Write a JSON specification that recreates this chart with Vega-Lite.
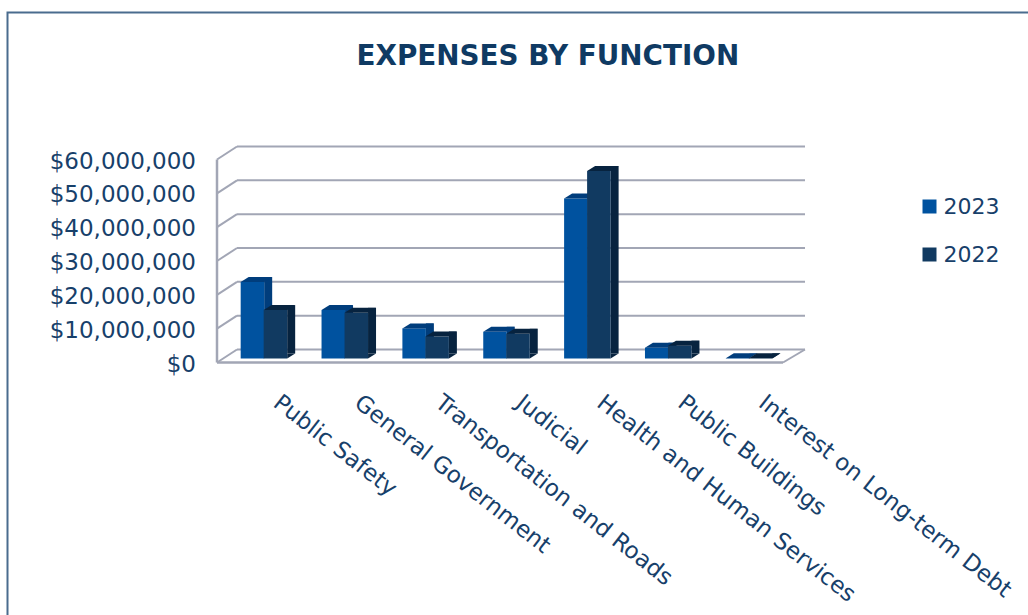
{
  "$schema": "https://vega.github.io/schema/vega-lite/v6.json",
  "width": 1030,
  "height": 610,
  "autosize": "none",
  "padding": {"left": 7.5, "top": 12.5, "right": 0, "bottom": 0},
  "background": "white",
  "view": {"stroke": "#4a6c8e", "strokeWidth": 2, "fill": "white"},
  "title": {
    "text": "EXPENSES BY FUNCTION",
    "orient": "top", "anchor": "start", "frame": "group",
    "dx": 349, "dy": 62,
    "font": "DejaVu Sans", "fontSize": 27.8, "fontWeight": "bold", "color": "#0f3a63"
  },
  "config": {
    "font": "DejaVu Sans",
    "axis": {"grid": false, "ticks": false, "domain": false, "title": null}
  },
  "datasets": {
    "expenses": [
      {"fn": "Public Safety", "year": "2023", "amount": 22600000},
      {"fn": "Public Safety", "year": "2022", "amount": 14300000},
      {"fn": "General Government", "year": "2023", "amount": 14300000},
      {"fn": "General Government", "year": "2022", "amount": 13500000},
      {"fn": "Transportation and Roads", "year": "2023", "amount": 8900000},
      {"fn": "Transportation and Roads", "year": "2022", "amount": 6500000},
      {"fn": "Judicial", "year": "2023", "amount": 7900000},
      {"fn": "Judicial", "year": "2022", "amount": 7300000},
      {"fn": "Health and Human Services", "year": "2023", "amount": 47300000},
      {"fn": "Health and Human Services", "year": "2022", "amount": 55400000},
      {"fn": "Public Buildings", "year": "2023", "amount": 3200000},
      {"fn": "Public Buildings", "year": "2022", "amount": 3800000},
      {"fn": "Interest on Long-term Debt", "year": "2023", "amount": 100000},
      {"fn": "Interest on Long-term Debt", "year": "2022", "amount": 100000}
    ],
    "ticks": [
      {"tick": 0}, {"tick": 10000000}, {"tick": 20000000}, {"tick": 30000000},
      {"tick": 40000000}, {"tick": 50000000}, {"tick": 60000000}
    ]
  },
  "resolve": {"scale": {"x": "independent"}},
  "layer": [
    {
      "data": {"name": "ticks"},
      "mark": {"type": "rule", "stroke": "#a2a6b5", "strokeWidth": 2, "xOffset": 20, "x2Offset": 22, "yOffset": -13},
      "encoding": {
        "x": {"datum": 0, "type": "quantitative", "scale": {"domain": [0, 1], "range": [209.5, 775.5]}, "axis": null},
        "x2": {"datum": 1},
        "y": {"field": "tick", "type": "quantitative", "scale": {"domain": [0, 60000000], "range": [350, 147]},
          "axis": {"values": [0, 10000000, 20000000, 30000000, 40000000, 50000000, 60000000], "format": "$,.0f", "offset": -188, "labelPadding": 0, "labelFontSize": 23, "labelColor": "#17406a", "labelOffset": 1.5}}
      }
    },
    {
      "data": {"name": "ticks"},
      "mark": {"type": "point", "shape": "M0 0L20 -13", "size": 4, "filled": false, "stroke": "#a2a6b5", "strokeWidth": 2, "opacity": 1},
      "encoding": {
        "x": {"datum": 0, "type": "quantitative", "scale": {"domain": [0, 1], "range": [209.5, 775.5]}, "axis": null},
        "y": {"field": "tick", "type": "quantitative"}
      }
    },
    {
      "data": {"values": [{"tick": 0}]},
      "mark": {"type": "rule", "stroke": "#a2a6b5", "strokeWidth": 2.5},
      "encoding": {
        "x": {"datum": 0, "type": "quantitative", "scale": {"domain": [0, 1], "range": [209.5, 775.5]}, "axis": null},
        "x2": {"datum": 1},
        "y": {"field": "tick", "type": "quantitative"}
      }
    },
    {
      "data": {"values": [{"tick": 0, "top": 60000000}]},
      "mark": {"type": "rule", "stroke": "#a2a6b5", "strokeWidth": 2.5},
      "encoding": {
        "x": {"datum": 0, "type": "quantitative", "scale": {"domain": [0, 1], "range": [209.5, 775.5]}, "axis": null},
        "y": {"field": "tick", "type": "quantitative"},
        "y2": {"field": "top"}
      }
    },
    {
      "data": {"values": [{"tick": 0}]},
      "mark": {"type": "point", "shape": "M0 0L22 -13", "size": 4, "filled": false, "stroke": "#a2a6b5", "strokeWidth": 2, "opacity": 1},
      "encoding": {
        "x": {"datum": 1, "type": "quantitative", "scale": {"domain": [0, 1], "range": [209.5, 775.5]}, "axis": null},
        "y": {"field": "tick", "type": "quantitative"}
      }
    },
    {
      "data": {"name": "expenses"},
      "transform": [{"filter": "datum.year === '2023'"}],
      "encoding": {
        "x": {"field": "fn", "type": "nominal", "sort": null, "scale": {"range": [209.5, 775.5], "paddingInner": 0, "paddingOuter": 0},
          "axis": {"orient": "bottom", "offset": -260, "labelAngle": 38, "labelAlign": "left", "labelBaseline": "middle", "labelPadding": 37, "labelOffset": 19, "labelFontSize": 23, "labelColor": "#17406a", "labelLimit": 0}},
        "y": {"field": "amount", "type": "quantitative"}
      },
      "layer": [
        {
          "mark": {"type": "bar", "width": 8, "fill": "#003d7c", "xOffset": 10.75, "yOffset": -9, "y2Offset": -9}
        },
        {
          "mark": {"type": "bar", "width": 23.5, "xOffset": -5, "yOffset": -4, "y2Offset": -4},
          "encoding": {
            "color": {"field": "year", "type": "nominal", "sort": ["2023", "2022"],
              "scale": {"domain": ["2023", "2022"], "range": ["#00529f", "#113a61"]},
              "legend": {"title": null, "orient": "none", "legendX": 911, "legendY": 183, "symbolType": "square", "symbolSize": 196, "symbolStrokeWidth": 0, "symbolOpacity": 1, "labelFontSize": 22, "labelColor": "#17406a", "rowPadding": 26, "labelOffset": 3}}
          }
        },
        {
          "mark": {"type": "point", "shape": "M-16.75 0L6.75 0L14.75 -5L-8.75 -5Z", "size": 4, "filled": true, "fill": "#003d7c", "opacity": 1, "yOffset": -4}
        }
      ]
    },
    {
      "data": {"name": "expenses"},
      "transform": [{"filter": "datum.year === '2022'"}],
      "encoding": {
        "x": {"field": "fn", "type": "nominal", "sort": null, "scale": {"range": [209.5, 775.5], "paddingInner": 0, "paddingOuter": 0}, "axis": null},
        "y": {"field": "amount", "type": "quantitative"}
      },
      "layer": [
        {
          "mark": {"type": "bar", "width": 8, "fill": "#07233f", "xOffset": 33.75, "yOffset": -9, "y2Offset": -9}
        },
        {
          "mark": {"type": "point", "shape": "M29.75 0L37.75 -5L29.75 -5Z", "size": 4, "filled": true, "fill": "#07233f", "opacity": 1, "yOffset": -4},
          "encoding": {"y": {"datum": 0, "type": "quantitative"}}
        },
        {
          "mark": {"type": "bar", "width": 23.5, "xOffset": 18, "yOffset": -4, "y2Offset": -4},
          "encoding": {"color": {"field": "year", "type": "nominal"}}
        },
        {
          "mark": {"type": "point", "shape": "M6.25 0L29.75 0L37.75 -5L14.25 -5Z", "size": 4, "filled": true, "fill": "#07233f", "opacity": 1, "yOffset": -4}
        }
      ]
    }
  ]
}
